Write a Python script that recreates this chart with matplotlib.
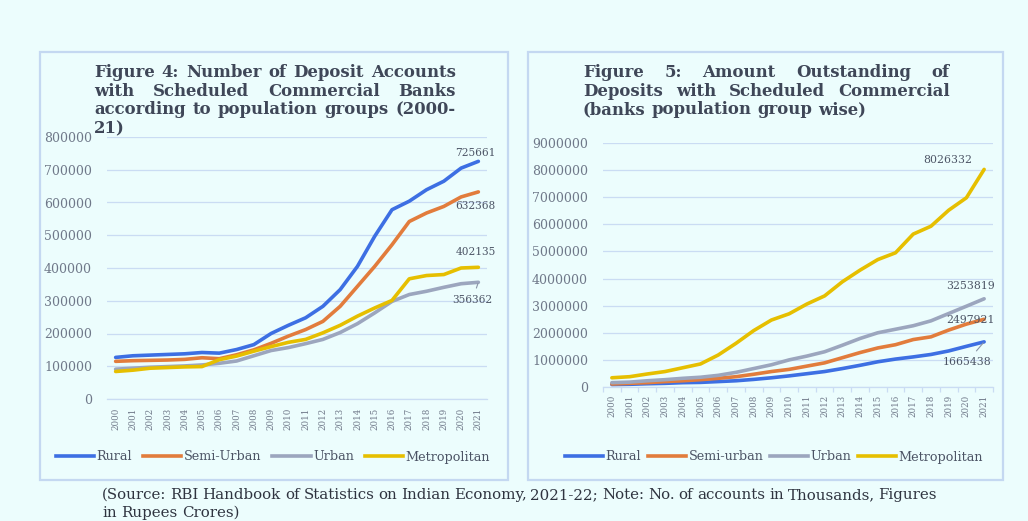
import matplotlib
matplotlib.use('Agg')
import matplotlib.pyplot as plt
from matplotlib.patches import Rectangle
from matplotlib.lines import Line2D
from matplotlib.ticker import FuncFormatter

# ---------------- data ----------------
years = [str(y) for y in range(2000, 2022)]

acc_rural = [127000, 132000, 134000, 136000, 138000, 142000, 140000, 151000, 166000, 200000, 225000,
             248000, 283000, 334000, 405000, 497000, 578000, 604000, 639000, 665000, 705000, 725661]
acc_semi = [115000, 117000, 118000, 119000, 121000, 126000, 123000, 135000, 150000, 170000, 192000,
            212000, 237000, 283000, 344000, 405000, 471000, 542000, 568000, 588000, 617000, 632368]
acc_urban = [91000, 94000, 97000, 99000, 101000, 104000, 109000, 116000, 132000, 148000, 157000,
             169000, 182000, 203000, 230000, 263000, 298000, 319000, 329000, 341000, 352000, 356362]
acc_metro = [84000, 88000, 94000, 96000, 98000, 99000, 120000, 131000, 146000, 160000, 173000,
             182000, 202000, 225000, 253000, 278000, 301000, 367000, 377000, 380000, 400000, 402135]

dep_rural = [90000, 100000, 120000, 135000, 160000, 170000, 200000, 230000, 280000, 340000, 410000,
             490000, 570000, 680000, 800000, 930000, 1030000, 1110000, 1200000, 1330000, 1500000, 1665438]
dep_semi = [110000, 135000, 160000, 200000, 230000, 270000, 320000, 380000, 470000, 570000, 650000,
            770000, 890000, 1080000, 1270000, 1440000, 1560000, 1750000, 1850000, 2100000, 2320000, 2497921]
dep_urban = [160000, 180000, 230000, 270000, 320000, 360000, 430000, 540000, 680000, 820000, 1000000,
             1140000, 1300000, 1540000, 1790000, 2000000, 2130000, 2260000, 2440000, 2710000, 2980000, 3253819]
dep_metro = [340000, 380000, 480000, 570000, 710000, 850000, 1180000, 1610000, 2080000, 2470000, 2700000,
             3060000, 3360000, 3880000, 4310000, 4700000, 4950000, 5640000, 5930000, 6520000, 6980000, 8026332]

left_labels = ['Rural', 'Semi-Urban', 'Urban', 'Metropolitan']
right_labels = ['Rural', 'Semi-urban', 'Urban', 'Metropolitan']

left_title = ["Figure 4: Number of Deposit Accounts",
              "with Scheduled Commercial Banks",
              "according to population groups (2000-",
              "21)"]
right_title = ["Figure 5: Amount Outstanding of",
               "Deposits with Scheduled Commercial",
               "(banks population group wise)"]
source_lines = ["(Source: RBI Handbook of Statistics on Indian Economy, 2021-22; Note: No. of accounts in Thousands, Figures",
                "in Rupees Crores)"]

# ---------------- style ----------------
W, H = 1028, 521
BG = '#ecfdfd'
BORDER = '#c4d8f1'
GRID = '#cadcf3'
TICK = '#6f7889'
TXT = '#4c5465'
TITLE = '#3f4758'
COLORS = ['#3d6fe3', '#e27c3c', '#9ca6be', '#e6bf00']
FONT = 'DejaVu Serif'
LW = 2.6

plt.rcParams['font.family'] = FONT

fig = plt.figure(figsize=(W / 100, H / 100), dpi=100, facecolor=BG)


def fx(px):
    return px / W


def fy(py):
    return 1 - py / H


# panel boxes
for (x0, y0, x1, y1) in [(40, 52, 508, 480), (528, 52, 1003, 480)]:
    fig.patches.append(Rectangle((fx(x0), fy(y1)), fx(x1) - fx(x0), fy(y0) - fy(y1),
                                 transform=fig.transFigure, fill=False,
                                 edgecolor=BORDER, linewidth=1.6, zorder=0))

plain = FuncFormatter(lambda v, p: f"{int(round(v))}")


def make_axes(px0, px1, py_top, py_bot):
    ax = fig.add_axes([fx(px0), fy(py_bot), fx(px1) - fx(px0), fy(py_top) - fy(py_bot)])
    ax.set_facecolor('none')
    for s in ['top', 'right', 'left']:
        ax.spines[s].set_visible(False)
    ax.spines['bottom'].set_color(GRID)
    ax.spines['bottom'].set_linewidth(0.9)
    ax.grid(axis='y', color=GRID, linewidth=0.9)
    ax.set_axisbelow(True)
    ax.set_xlim(-0.5, len(years) - 0.5)
    ax.set_xticks(range(len(years)))
    ax.set_xticklabels(years, rotation=90, fontsize=6.2, color=TICK)
    ax.yaxis.set_major_formatter(plain)
    ax.tick_params(axis='y', length=0, pad=10.8, labelsize=9, labelcolor=TICK)
    return ax


# ---------------- left chart ----------------
ax1 = make_axes(107, 487, 137, 399)
ax1.set_ylim(0, 800000)
ax1.set_yticks(range(0, 800001, 100000))
ax1.tick_params(axis='x', length=0, pad=6.5)
xs = range(len(years))
for vals, c in zip([acc_rural, acc_semi, acc_urban, acc_metro], COLORS):
    ax1.plot(xs, vals, color=c, lw=LW, solid_joinstyle='round', solid_capstyle='round')

ann_kw = dict(textcoords='offset pixels', ha='center', va='center', color=TXT, fontsize=7.6)
ax1.annotate(f"{acc_rural[-1]}", (21, acc_rural[-1]), xytext=(-3, 8), **ann_kw)
ax1.annotate(f"{acc_semi[-1]}", (21, acc_semi[-1]), xytext=(-2.5, -14), **ann_kw)
ax1.annotate(f"{acc_metro[-1]}", (21, acc_metro[-1]), xytext=(-2.5, 15), **ann_kw)
ax1.annotate(f"{acc_urban[-1]}", (21, acc_urban[-1]), xytext=(-6, -17.5),
             arrowprops=dict(arrowstyle='-', color='#8a93a6', lw=0.8, shrinkA=3, shrinkB=1), **ann_kw)

# ---------------- right chart ----------------
ax2 = make_axes(603, 993, 143, 387)
ax2.set_ylim(0, 9000000)
ax2.set_yticks(range(0, 9000001, 1000000))
ax2.tick_params(axis='x', which='major', length=0, pad=5.8)
ax2.set_xticks([i - 0.5 for i in range(len(years) + 1)], minor=True)
ax2.tick_params(axis='x', which='minor', length=3.5, color=GRID, width=0.9)
for vals, c in zip([dep_rural, dep_semi, dep_urban, dep_metro], COLORS):
    ax2.plot(xs, vals, color=c, lw=LW, solid_joinstyle='round', solid_capstyle='round')

ann_kw2 = dict(textcoords='offset pixels', ha='center', va='center', color=TXT, fontsize=7.8)
ax2.annotate(f"{dep_metro[-1]}", (21, dep_metro[-1]), xytext=(-36.5, 9.5), **ann_kw2)
ax2.annotate(f"{dep_urban[-1]}", (21, dep_urban[-1]), xytext=(-14, 13), **ann_kw2)
ax2.annotate(f"{dep_semi[-1]}", (21, dep_semi[-1]), xytext=(-14, -1), **ann_kw2)
ax2.annotate(f"{dep_rural[-1]}", (21, dep_rural[-1]), xytext=(-17, -20),
             arrowprops=dict(arrowstyle='-', color='#8a93a6', lw=0.8, shrinkA=3, shrinkB=1), **ann_kw2)

# ---------------- legends ----------------
leg_kw = dict(loc='center', ncol=4, frameon=False, handlelength=3.0, handletextpad=0.2,
              borderaxespad=0, borderpad=0, prop={'family': FONT, 'size': 9.2}, labelcolor=TXT)
h = [Line2D([], [], color=c, lw=LW) for c in COLORS]
fig.legend(h, left_labels, bbox_to_anchor=(fx(273), fy(457)), columnspacing=0.85, **leg_kw)
fig.legend(h, right_labels, bbox_to_anchor=(fx(774), fy(457)), columnspacing=0.5, **leg_kw)

# ---------------- justified text ----------------
renderer = fig.canvas.get_renderer()


def place_line(line, x0, x1, yb, justify=True, **kw):
    words = line.split()
    texts = [fig.text(0, fy(yb), w, ha='left', va='baseline', **kw) for w in words]
    widths = [t.get_window_extent(renderer).width for t in texts]
    sp = fig.text(0, 0, 'a a', **kw)
    sa = fig.text(0, 0, 'aa', **kw)
    space = sp.get_window_extent(renderer).width - sa.get_window_extent(renderer).width
    sp.remove()
    sa.remove()
    if justify and len(words) > 1:
        gap = max((x1 - x0 - sum(widths)) / (len(words) - 1), space * 0.6)
    else:
        gap = space
    x = x0
    for t, w in zip(texts, widths):
        t.set_x(fx(x))
        x += w + gap


title_kw = dict(fontsize=11.9, fontweight='bold', color=TITLE)
for i, line in enumerate(left_title):
    place_line(line, 94, 456, 76.7 + 18.8 * i, justify=(i < len(left_title) - 1), **title_kw)
for i, line in enumerate(right_title):
    place_line(line, 583, 950, 76.7 + 18.8 * i, justify=(i < len(right_title) - 1), **title_kw)

src_kw = dict(fontsize=10.8, color='#2f3440')
place_line(source_lines[0], 102, 937, 499, justify=True, **src_kw)
place_line(source_lines[1], 102, 937, 517, justify=False, **src_kw)

fig.savefig('out.png', dpi=100, facecolor=BG)
